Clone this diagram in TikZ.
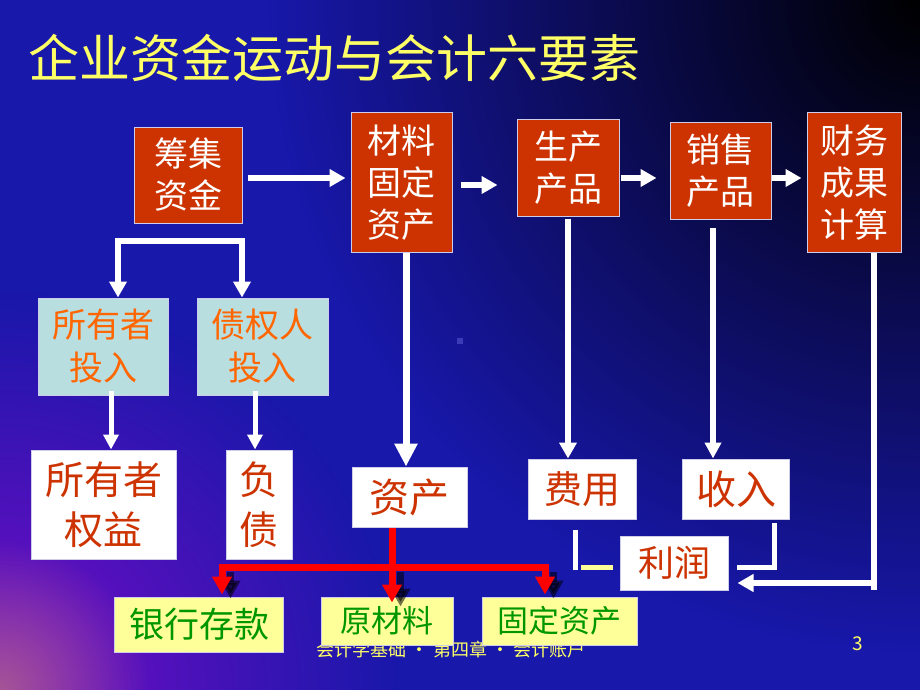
\documentclass[tikz,border=0pt]{standalone}
\usepackage{fontspec}
\newfontfamily\cjk{Noto Sans CJK SC}
\usetikzlibrary{arrows.meta,fadings,calc}
\definecolor{bgblue}{RGB}{24,24,170}
\definecolor{bgpurple}{RGB}{120,12,200}
\definecolor{bgpink}{RGB}{165,85,150}
\definecolor{boxred}{RGB}{204,51,0}
\definecolor{txtred}{RGB}{204,51,0}
\definecolor{orangetxt}{RGB}{255,102,0}
\definecolor{cyanbox}{RGB}{185,222,224}
\definecolor{ylwbox}{RGB}{255,255,153}
\definecolor{greentxt}{RGB}{0,150,0}
\definecolor{titleylw}{RGB}{255,255,102}
\definecolor{bordercol}{RGB}{205,205,235}
\definecolor{redline}{RGB}{255,0,0}
\tikzfading[name=radfade, inner color=transparent!0, outer color=transparent!100]
\begin{document}
\begin{tikzpicture}[x=1pt,y=-1pt,
  box/.style={draw=bordercol, line width=1pt, inner sep=0pt, align=center},
  redbox/.style={box, fill=boxred, text=white, font=\cjk\fontsize{34}{42}\selectfont},
  cyanbx/.style={box, fill=cyanbox, text=orangetxt, font=\cjk\fontsize{34}{43}\selectfont},
  whitebox/.style={box, fill=white, text=txtred},
  ylwbx/.style={box, fill=ylwbox, text=greentxt},
  warrow/.style={draw=white, line width=6pt, -{Triangle[width=17pt,length=16pt]}},
  wline/.style={draw=white, line width=6pt},
  rline/.style={draw=redline, line width=7pt},
  rarrow/.style={draw=redline, line width=7pt, -{Triangle[width=19pt,length=18pt]}},
  sarrow/.style={draw=black, opacity=0.55, line width=7pt, -{Triangle[width=19pt,length=18pt]}}
]
\useasboundingbox (0,0) rectangle (920,690);
% background
\begin{scope}
\clip (0,0) rectangle (920,690);
\fill[bgblue] (0,0) rectangle (920,690);
\fill[black, path fading=radfade] (920,0) circle (650pt);
\fill[bgpurple, path fading=radfade] (0,690) circle (400pt);
\fill[bgpink, path fading=radfade] (0,690) circle (150pt);
\end{scope}
\fill[bgblue!85!white] (457,338) rectangle (463,344);

% title
\node[anchor=west, text=titleylw, font=\cjk\fontsize{51}{51}\selectfont, inner sep=0pt] (title) at (28,58) {企业资金运动与会计六要素};

% footer
\node[text=titleylw, font=\cjk\fontsize{18}{18}\selectfont, inner sep=0pt] (footer) at (451,650) {会计学基础 • 第四章 • 会计账户};
\node[text=titleylw, font=\cjk\fontsize{19}{19}\selectfont, inner sep=0pt] (pagenum) at (858,644) {3};

% top row
\node[redbox, minimum width=108, minimum height=96] (chou) at (188,175) {筹集\\资金};
\node[redbox, minimum width=101, minimum height=139] (cailiao) at (401.5,182.5) {材料\\固定\\资产};
\node[redbox, minimum width=102, minimum height=96] (sheng) at (568,168) {生产\\产品};
\node[redbox, minimum width=101, minimum height=96] (xiao) at (720.5,171) {销售\\产品};
\node[redbox, minimum width=94, minimum height=139] (caiwu) at (854,182.5) {财务\\成果\\计算};

% second row
\node[cyanbx, minimum width=130, minimum height=97] (syz) at (103,346.5) {所有者\\投入};
\node[cyanbx, minimum width=131, minimum height=97] (zqr) at (262.5,346.5) {债权人\\投入};

% third row
\node[whitebox, minimum width=145, minimum height=109, font=\cjk\fontsize{39}{50}\selectfont] (qy) at (103.5,504.5) {所有者\\权益};
\node[whitebox, minimum width=66, minimum height=109, font=\cjk\fontsize{39}{50}\selectfont] (fz) at (259,504.5) {负\\债};
\node[whitebox, minimum width=115, minimum height=60, font=\cjk\fontsize{40}{40}\selectfont] (zc) at (409.5,497) {资产};
\node[whitebox, minimum width=108, minimum height=60, font=\cjk\fontsize{38}{38}\selectfont] (fy) at (582.5,489) {费用};
\node[whitebox, minimum width=107, minimum height=60, font=\cjk\fontsize{40}{40}\selectfont] (sr) at (736,489) {收入};
\node[whitebox, minimum width=108, minimum height=54, font=\cjk\fontsize{36}{36}\selectfont] (lr) at (674,563) {利润};

% bottom row
\node[ylwbx, minimum width=169, minimum height=55, font=\cjk\fontsize{35}{35}\selectfont] (yh) at (199,624.5) {银行存款};
\node[ylwbx, minimum width=132, minimum height=48, font=\cjk\fontsize{31}{31}\selectfont] (ycl) at (387,621) {原材料};
\node[ylwbx, minimum width=155, minimum height=48, font=\cjk\fontsize{31}{31}\selectfont] (gd) at (559.5,621) {固定资产};

% top row arrows
\draw[warrow] ($(chou.east)+(5,3)$) -- ($(cailiao.west)+(-5,-4.5)$);
\draw[warrow] ($(cailiao.east)+(8,2.5)$) -- ($(sheng.west)+(-19,17)$);
\draw[warrow] ($(sheng.east)+(1,10)$) -- ($(xiao.west)+(-13,7)$);
\draw[warrow] ($(xiao.east)+(0,7)$) -- ($(caiwu.west)+(-5,-4.5)$);

% bracket from financing
\coordinate (bl) at (118,241);
\coordinate (br) at (242,241);
\draw[wline, {Triangle[width=17pt,length=16pt]}-{Triangle[width=17pt,length=16pt]}] (syz.north -| bl) -- (bl) -- (br) -- (zqr.north -| br);

% down arrows from investment boxes
\draw[warrow, line width=5pt, -{Triangle[width=15pt,length=15pt]}] ($(syz.south -| 111,0)+(0,-5)$) -- (qy.north -| 111,0);
\draw[warrow, line width=5pt, -{Triangle[width=15pt,length=15pt]}] ($(zqr.south -| 255,0)+(0,-5)$) -- (fz.north -| 255,0);

% long vertical arrows
\draw[warrow, line width=7pt, -{Triangle[width=22pt,length=23pt]}] (cailiao.south -| 406,0) -- (zc.north -| 406,0);
\draw[warrow, line width=6pt, -{Triangle[width=17pt,length=16pt]}] ($(sheng.south -| 568,0)+(0,2)$) -- (fy.north -| 568,0);
\draw[warrow, line width=6pt, -{Triangle[width=16pt,length=16pt]}] ($(xiao.south -| 713,0)+(0,8)$) -- (sr.north -| 713,0);

% profit connections
\coordinate (cwb) at (874,590);
\coordinate (cwh) at (874,583);
\draw[wline] (caiwu.south -| cwb) -- (cwb);
\draw[warrow, line width=6pt, shorten >=9pt] (cwh) -- (lr.east |- cwh);
\coordinate (fyc) at (575,567);
\coordinate (src) at (774,567);
\draw[wline, line width=5pt] ($(fy.south -| fyc)+(0,10)$) -- (fyc) -- ++(3,0);
\draw[draw=ylwbox, line width=5pt] ($(fyc)+(6,0)$) -- ($(lr.west |- fyc)+(-7,0)$);
\draw[wline, line width=5pt] ($(sr.south -| src)+(0,3)$) -- (src) -- ($(lr.east |- src)+(8,0)$);

% red asset bracket
\coordinate (rl) at (222,567);
\coordinate (rm) at (392,567);
\coordinate (rr) at (545,567);
\draw[sarrow] ($(rl)+(8.5,5)$) -- ($(yh.north -| rl)+(8.5,2)$);
\draw[sarrow] ($(rm)+(8.5,5)$) -- ($(ycl.north -| rm)+(8.5,10)$);
\draw[sarrow] ($(rr)+(8.5,5)$) -- ($(gd.north -| rr)+(8.5,2)$);
\draw[rline] (zc.south -| rm) -- (rm);
\draw[rline, line cap=rect] (rl) -- (rr);
\draw[rarrow] (rl) -- ($(yh.north -| rl)+(0,-2)$);
\draw[rarrow] (rm) -- ($(ycl.north -| rm)+(0,6)$);
\draw[rarrow] (rr) -- ($(gd.north -| rr)+(0,-2)$);
\end{tikzpicture}
\end{document}
